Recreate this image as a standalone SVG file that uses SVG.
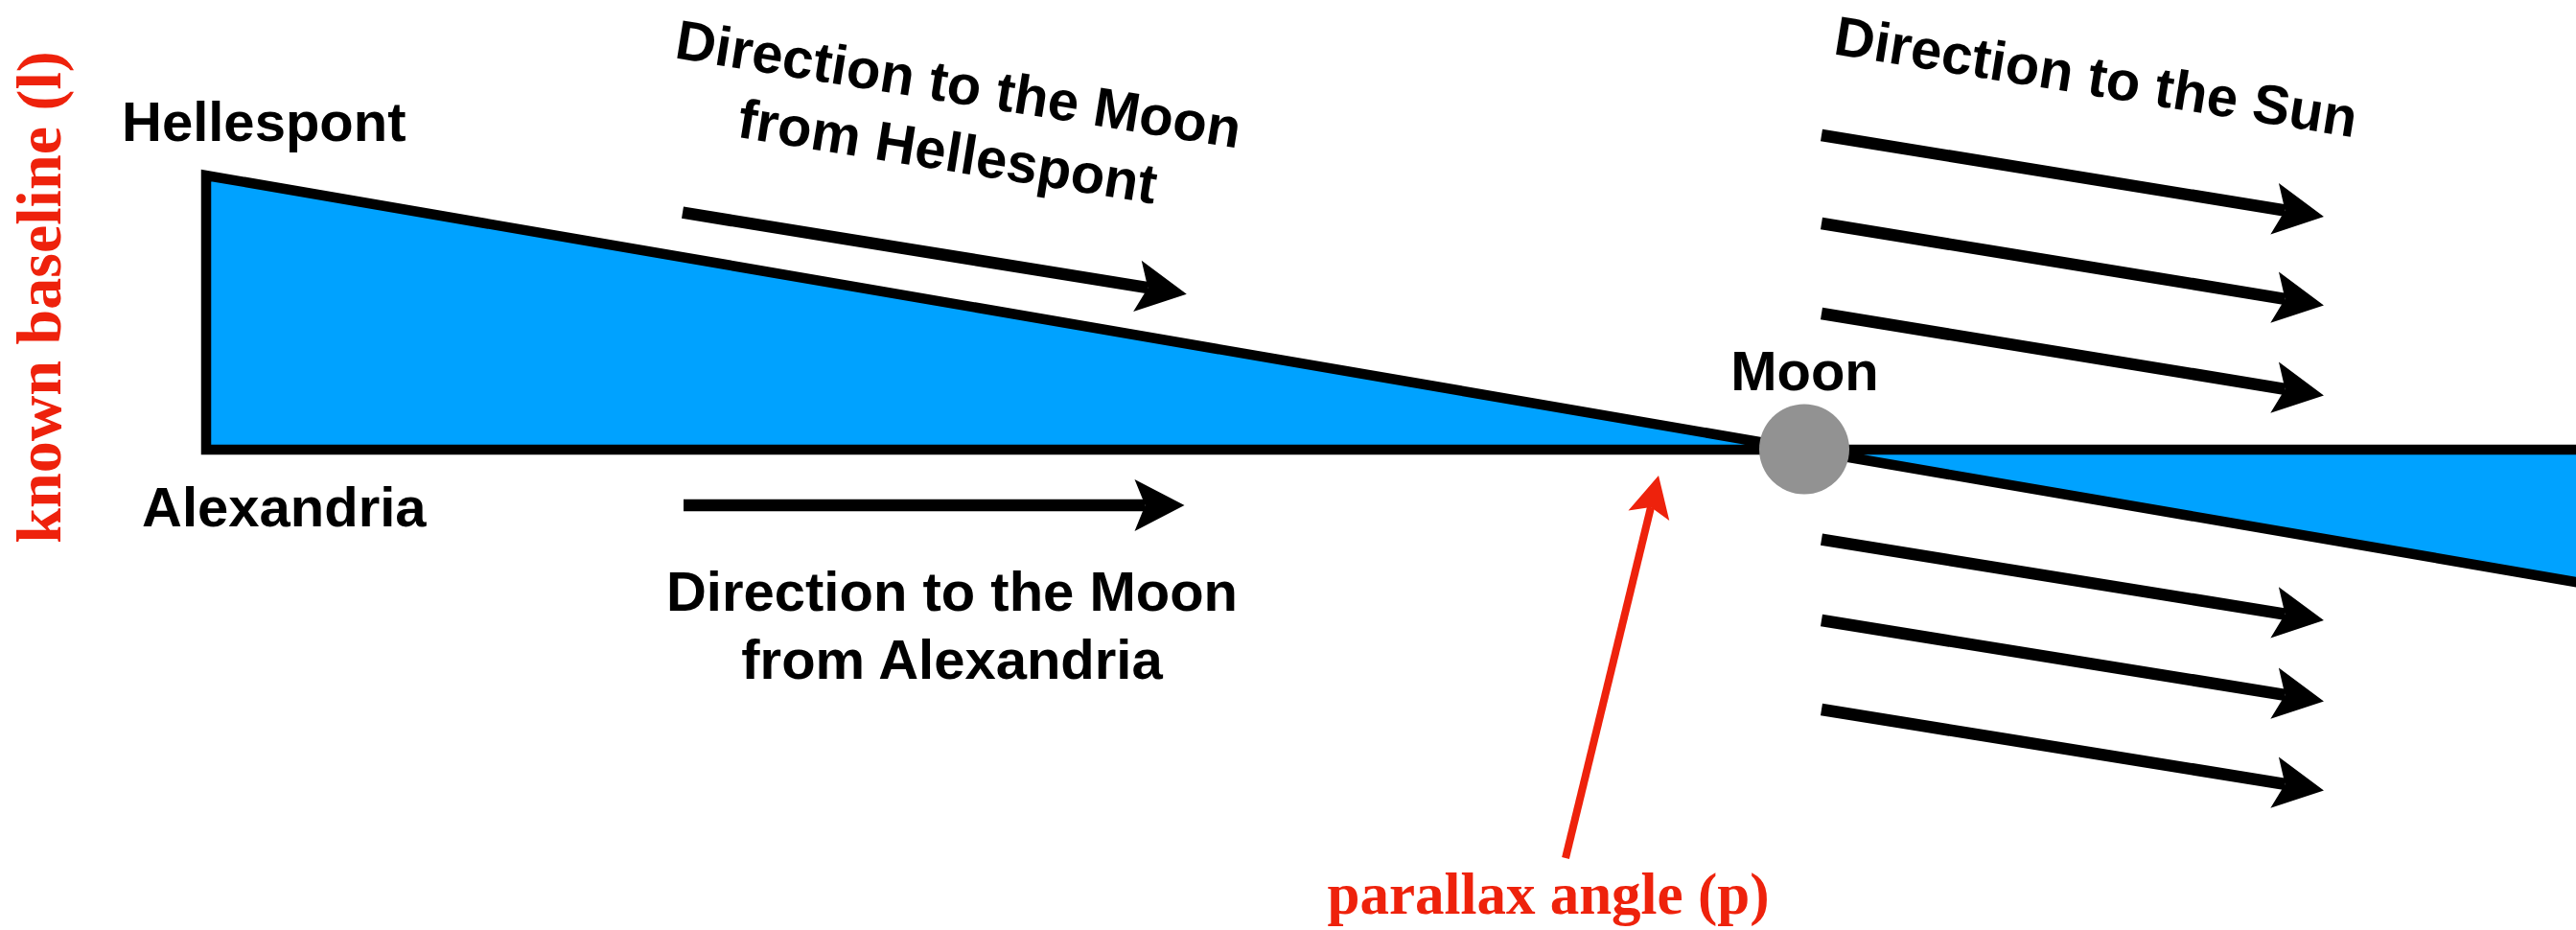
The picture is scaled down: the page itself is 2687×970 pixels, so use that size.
<svg xmlns="http://www.w3.org/2000/svg" width="2687" height="970" viewBox="0 0 2687 970">
  <style>
    .lbl { font-family: "Liberation Sans", Arial, Helvetica, sans-serif; font-weight: bold; font-size: 58px; fill: #000; }
    .red { font-family: "Liberation Serif", "Times New Roman", serif; font-weight: bold; fill: #ee220c; }
    .wedge { fill: #00a2ff; stroke: #000; stroke-width: 10.5; stroke-linejoin: miter; }
    .arr { stroke: #000; stroke-width: 12.5; fill: none; marker-end: url(#head); }
    .rarr { stroke: #ee220c; stroke-width: 8; fill: none; marker-end: url(#rhead); }
  </style>
  <defs>
    <marker id="head" markerUnits="userSpaceOnUse" viewBox="-11 -27 52 54" markerWidth="52" markerHeight="54" refX="0" refY="0" orient="auto" overflow="visible">
      <path d="M41,0 L-11,-27 L0,0 L-11,27 Z" fill="#000"/>
    </marker>
    <marker id="rhead" markerUnits="userSpaceOnUse" viewBox="-9 -22 43 44" markerWidth="43" markerHeight="44" refX="0" refY="0" orient="auto" overflow="visible">
      <path d="M34,0 L-9,-22 L0,0 L-9,22 Z" fill="#ee220c"/>
    </marker>
  </defs>
  <rect width="2687" height="970" fill="#fff"/>

  <g id="baseline-triangle">
    <polygon class="wedge" points="215,183 215,469 1882,469"/>
  </g>
  <g id="sun-triangle">
    <polygon class="wedge" points="1882,469 2710,469 2710,611"/>
  </g>

  <g id="connectors">
    <line class="arr" x1="712" y1="221.7" x2="1197.3" y2="300.2"/>
    <line class="arr" x1="713" y1="527" x2="1194.5" y2="527"/>
    <line class="arr" x1="1900" y1="141" x2="2383.5" y2="219.5"/>
    <line class="arr" x1="1900" y1="233" x2="2383.5" y2="311.8"/>
    <line class="arr" x1="1900" y1="327" x2="2383.5" y2="405.8"/>
    <line class="arr" x1="1900" y1="562.7" x2="2383.5" y2="640.6"/>
    <line class="arr" x1="1900" y1="647" x2="2383.5" y2="724.9"/>
    <line class="arr" x1="1900" y1="740" x2="2383.5" y2="817.9"/>
    <line class="rarr" x1="1633" y1="895" x2="1722" y2="529"/>
  </g>

  <g id="moon">
    <circle cx="1882" cy="468.5" r="47" fill="#929292"/>
    <text class="lbl" x="1882.5" y="407" text-anchor="middle">Moon</text>
  </g>

  <g id="hellespont">
    <text class="lbl" x="127" y="147">Hellespont</text>
  </g>
  <g id="alexandria">
    <text class="lbl" x="148" y="549">Alexandria</text>
  </g>

  <g id="label-moon-from-hellespont" transform="translate(996.7,107.5) rotate(9.1)">
    <text class="lbl" x="0" y="0" text-anchor="middle">Direction to the Moon</text>
    <text class="lbl" x="0" y="71" text-anchor="middle">from Hellespont</text>
  </g>
  <g id="label-moon-from-alexandria">
    <text class="lbl" x="993" y="637" text-anchor="middle">Direction to the Moon</text>
    <text class="lbl" x="993" y="708" text-anchor="middle">from Alexandria</text>
  </g>
  <g id="label-sun" transform="translate(2183.3,99.7) rotate(9.1)">
    <text class="lbl" x="0" y="0" text-anchor="middle">Direction to the Sun</text>
  </g>

  <g id="label-parallax">
    <text class="red" x="1615" y="953" font-size="61" text-anchor="middle">parallax angle (p)</text>
  </g>
  <g id="label-baseline" transform="translate(63,310) rotate(-90)">
    <text class="red" x="0" y="0" font-size="66" text-anchor="middle">known baseline (l)</text>
  </g>
</svg>
